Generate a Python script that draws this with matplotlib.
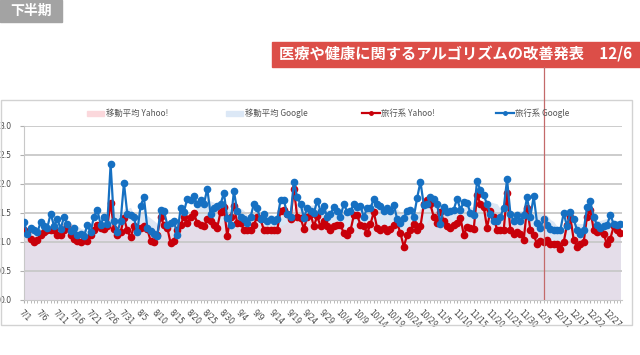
import pandas as pd
import matplotlib.pyplot as plt
import numpy as np
from matplotlib.lines import Line2D
from matplotlib.patches import Rectangle

plt.rcParams['font.family'] = ['Noto Sans CJK JP', 'DejaVu Sans']

# daily values, 7/1 - 12/31 (a few days missing)
google = [1.33, 1.13, 1.24, 1.19, 1.16, 1.33, 1.26, 1.24, 1.48, 1.27,
          1.39, 1.22, 1.42, 1.31, 1.18, 1.24, 1.11, 1.13, 1.09, 1.28,
          1.16, 1.43, 1.55, 1.29, 1.43, 1.30, 2.33, 1.35, 1.16, 1.35,
          2.01, 1.48, 1.45, 1.42, 1.16, 1.62, 1.76, 1.24, 1.18, 1.13,
          1.09, 1.55, 1.53, 1.29, 1.32, 1.35, 1.12, 1.57, 1.51, 1.74,
          1.71, 1.78, 1.64, 1.72, 1.64, 1.91, 1.48, 1.57, 1.61, 1.64,
          1.84, 1.41, 1.29, 1.87, 1.53, 1.42, 1.38, 1.32, 1.42, 1.65,
          1.57, 1.38, 1.48, 1.36, 1.38, 1.36, 1.38, 1.71, 1.71, 1.48,
          1.42, 2.03, 1.76, 1.65, 1.41, 1.57, 1.53, 1.49, 1.70, 1.53,
          1.61, 1.42, 1.48, 1.59, 1.53, 1.43, 1.65, 1.51, 1.52, 1.65,
          1.59, 1.61, 1.42, 1.58, 1.57, 1.74, 1.64, 1.61, 1.53, 1.58,
          1.52, 1.63, 1.39, 1.32, 1.41, 1.53, 1.55, 1.42, 1.75, 2.03,
          1.63, 1.64, 1.76, 1.74, 1.65, 1.30, 1.59, 1.51, 1.52, 1.55,
          1.74, 1.55, 1.68, 1.67, 1.49, 1.46, 2.05, 1.88, 1.80, 1.64,
          1.48, 1.35, 1.36, 1.43, 1.58, 2.07, 1.48, 1.35, 1.45, 1.36,
          1.45, 1.76, 1.43, 1.78, 1.32, 1.24, 1.38, 1.28, 1.22, 1.19,
          1.19, 1.20, 1.49, 1.26, 1.51, 1.38, 1.20, 1.13, 1.19, 1.59,
          1.69, 1.43, 1.28, 1.24, 1.26, 1.28, 1.46, 1.30, 1.28, 1.30]

yahoo = [1.20, 1.16, 1.05, 0.99, 1.03, 1.12, 1.16, 1.19, 1.20, 1.20,
         1.11, 1.11, 1.20, 1.28, 1.12, 1.05, 1.01, 0.99, 1.03, 1.01,
         1.12, 1.20, 1.28, 1.24, 1.22, 1.26, 1.67, 1.22, 1.12, 1.16,
         1.41, 1.19, 1.07, 1.26, 1.24, 1.24, 1.26, 1.22, 1.01, 1.00,
         1.12, 1.42, 1.29, 1.24, 0.97, 1.01, 1.19, 1.29, 1.42, 1.32,
         1.43, 1.49, 1.32, 1.28, 1.26, 1.38, 1.36, 1.29, 1.24, 1.51,
         1.59, 1.09, 1.43, 1.61, 1.32, 1.32, 1.20, 1.19, 1.20, 1.29,
         1.43, 1.38, 1.20, 1.19, 1.19, 1.19, 1.20, 1.53, 1.55, 1.48,
         1.38, 1.91, 1.43, 1.41, 1.22, 1.42, 1.48, 1.26, 1.44, 1.26,
         1.35, 1.26, 1.19, 1.26, 1.28, 1.29, 1.14, 1.12, 1.19, 1.45,
         1.45, 1.29, 1.26, 1.14, 1.30, 1.51, 1.23, 1.20, 1.24, 1.18,
         1.22, 1.29, 1.32, 1.14, 0.91, 1.11, 1.20, 1.30, 1.19, 1.26,
         1.64, 1.72, 1.64, 1.42, 1.32, 1.51, 1.36, 1.26, 1.24, 1.29,
         1.32, 1.41, 1.12, 1.25, 1.24, 1.22, 1.80, 1.65, 1.59, 1.24,
         1.53, 1.42, 1.20, 1.19, 1.20, 1.84, 1.19, 1.13, 1.16, 1.13,
         1.03, 1.58, 1.20, 1.12, 0.95, 1.01, 0.99, 1.03, 0.95, 0.95,
         0.95, 0.87, 0.99, 1.29, 1.42, 1.03, 0.91, 0.95, 0.99, 1.43,
         1.55, 1.20, 1.16, 1.18, 1.13, 0.95, 1.05, 1.26, 1.19, 1.14]

tick_labels = ['7/1', '7/6', '7/11', '7/16', '7/21', '7/26', '7/31', '8/5', '8/10',
               '8/15', '8/20', '8/25', '8/30', '9/4', '9/9', '9/14', '9/19', '9/24',
               '9/29', '10/4', '10/9', '10/14', '10/19', '10/24', '10/29', '11/5',
               '11/10', '11/15', '11/20', '11/25', '11/30', '12/5', '12/12', '12/17',
               '12/22', '12/27']
event_index = 156  # 12/6
event_text = '医療や健康に関するアルゴリズムの改善発表　12/6'

df = pd.DataFrame({'google': google, 'yahoo': yahoo})
df['ma_google'] = df['google'].rolling(7, min_periods=1).mean()
df['ma_yahoo'] = df['yahoo'].rolling(7, min_periods=1).mean()
x = np.arange(len(df))

fig = plt.figure(figsize=(6.4, 3.55), dpi=100)

# outer frame of the chart
fig.patches.append(Rectangle((1 / 640, 1 - 325 / 355), 631 / 640, 225 / 355,
                             transform=fig.transFigure, fill=False,
                             edgecolor='#d2d2d2', lw=1.0))

ax = fig.add_axes([24 / 640, 1 - 299.5 / 355, 598 / 640, 174 / 355])

ax.fill_between(x, 0, df['ma_google'], color='#dce7f4', lw=0, zorder=1)
ax.fill_between(x, 0, df['ma_yahoo'], color='#e4dde9', lw=0, zorder=1.1)
for v in [0.5, 1.0, 1.5, 2.0, 2.5, 3.0]:
    ax.axhline(v, color='#c8c8c8', lw=1.3, zorder=1.5)

ax.plot(x, df['yahoo'], color='#c8000a', lw=1.6, marker='o', ms=4.5, zorder=3)
ax.plot(x, df['google'], color='#1670c2', lw=1.6, marker='o', ms=4.5, zorder=4)

ax.axvline(event_index, color='#c46a6a', lw=0.9, zorder=5)

ax.set_xlim(0, len(df) - 0.5)
ax.set_ylim(0, 3.0)
ax.set_yticks([0, 0.5, 1.0, 1.5, 2.0, 2.5, 3.0])
ax.set_yticklabels(['0.0', '0.5', '1.0', '1.5', '2.0', '2.5', '3.0'],
                   fontsize=5.5, color='#444444', family='DejaVu Sans')
ax.set_xticks(np.arange(0, 176, 5))
ax.set_xticklabels(tick_labels, rotation=-45, ha='left', va='top',
                   fontsize=5.5, color='#444444', family='DejaVu Sans',
                   rotation_mode='anchor')
ax.set_xticks(x, minor=True)
ax.tick_params(axis='x', which='both', length=2, color='#b0b0b0', pad=4)
ax.tick_params(axis='y', length=3, color='#b0b0b0', pad=6)
for s in ['top', 'right']:
    ax.spines[s].set_visible(False)
ax.spines['left'].set_color('#c8c8c8')
ax.spines['bottom'].set_color('#c8c8c8')

# legend row
ly = 1 - 113 / 355
leg_txt = dict(fontsize=6, color='#555555', va='center')
fig.patches.append(Rectangle((87 / 640, ly - 2.5 / 355), 17 / 640, 5 / 355,
                             transform=fig.transFigure, color='#fbd8dc'))
fig.text(106 / 640, ly, '移動平均 Yahoo!', **leg_txt)
fig.patches.append(Rectangle((226 / 640, ly - 2.5 / 355), 17 / 640, 5 / 355,
                             transform=fig.transFigure, color='#dce8f6'))
fig.text(245 / 640, ly, '移動平均 Google', **leg_txt)
fig.lines.append(Line2D([362 / 640, 380 / 640], [ly, ly], transform=fig.transFigure,
                        color='#c8000a', lw=1.6))
fig.lines.append(Line2D([371 / 640], [ly], transform=fig.transFigure,
                        color='#c8000a', marker='o', ms=2.5))
fig.text(381 / 640, ly, '旅行系 Yahoo!', **leg_txt)
fig.lines.append(Line2D([496 / 640, 514 / 640], [ly, ly], transform=fig.transFigure,
                        color='#1670c2', lw=1.6))
fig.lines.append(Line2D([505 / 640], [ly], transform=fig.transFigure,
                        color='#1670c2', marker='o', ms=2.5))
fig.text(515 / 640, ly, '旅行系 Google', **leg_txt)

# header label
fig.patches.append(Rectangle((0, 1 - 22 / 355), 62 / 640, 22 / 355,
                             transform=fig.transFigure, color='#a3a3a3'))
fig.text(31 / 640, 1 - 11 / 355, '下半期', fontsize=10, fontweight='bold',
         color='white', ha='center', va='center')

# event banner
fig.patches.append(Rectangle((272 / 640, 1 - 67 / 355), 368 / 640, 25 / 355,
                             transform=fig.transFigure, color='#dc4e48'))
fig.text(279 / 640, 1 - 54.5 / 355, event_text, fontsize=11, fontweight='bold',
         color='white', va='center')
ex = (24 + event_index * 598 / (len(df) - 0.5)) / 640
fig.lines.append(Line2D([ex, ex], [1 - 67 / 355, 1 - 125 / 355],
                        transform=fig.transFigure, color='#c46a6a', lw=0.9))

fig.savefig('out.png', dpi=100)
